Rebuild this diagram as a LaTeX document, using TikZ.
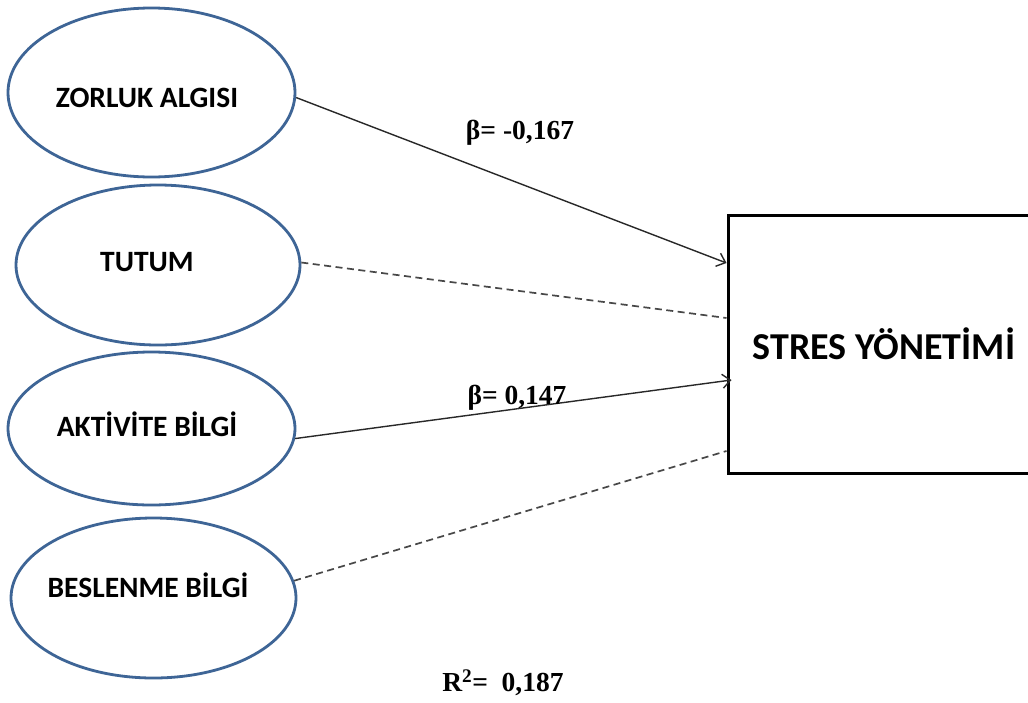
\documentclass[tikz,border=0pt]{standalone}
\usepackage{fontspec}
\setmainfont{Liberation Serif}
\newfontfamily\calib{Carlito}
\usetikzlibrary{arrows.meta,shapes.geometric}
\definecolor{ovalblue}{RGB}{62,101,150}
\definecolor{linkgray}{RGB}{40,40,40}
\tikzset{
  oval/.style={draw=ovalblue, line width=2.8pt, ellipse, inner sep=0pt},
  ovallabel/.style={font=\calib\bfseries\fontsize{29.5}{32}\selectfont, inner sep=0pt},
  target/.style={draw=black, line width=3pt, rectangle, inner sep=0pt,
    minimum width=312pt, minimum height=258pt,
    font=\calib\bfseries\fontsize{38}{42}\selectfont},
  coef/.style={font=\bfseries\fontsize{27.5}{30}\selectfont, inner sep=0pt},
  solidlink/.style={draw=linkgray, line width=1.4pt,
    -{Straight Barb[length=8pt,width=14pt,line width=1.4pt]}},
  dashlink/.style={draw=linkgray!85, line width=1.7pt, dash pattern=on 7pt off 4.5pt}
}
\begin{document}
\begin{tikzpicture}[x=1pt,y=-1pt]
  \useasboundingbox (0,0) rectangle (1028,702);
  \fill[white] (0,0) rectangle (1028,702);
  \clip (0,0) rectangle (1028,702);

  % predictor constructs
  \node[oval, minimum width=287pt, minimum height=169pt] (zor) at (151.5,92.5) {};
  \node[oval, minimum width=284pt, minimum height=160pt] (tut) at (158,265) {};
  \node[oval, minimum width=287pt, minimum height=153pt] (akt) at (151.5,428.5) {};
  \node[oval, minimum width=285pt, minimum height=160pt] (bes) at (153.5,598) {};

  \node[ovallabel] (zorlbl) at (147,98) {ZORLUK ALGISI};
  \node[ovallabel] (tutlbl) at (147,262) {TUTUM};
  \node[ovallabel] (aktlbl) at (147,424) {AKTİVİTE BİLGİ};
  \node[ovallabel] (beslbl) at (148,585) {BESLENME BİLGİ};

  % outcome construct (right side runs off the page)
  \node[target] (stres) at (884,344) {STRES YÖNETİMİ};

  % entry points on the left side of the outcome box
  \coordinate (inZ) at ([yshift=81pt]stres.west);
  \coordinate (inT) at ([yshift=26pt]stres.west);
  \coordinate (inA) at ([xshift=5pt,yshift=-36pt]stres.west);
  \coordinate (inB) at ([yshift=-107pt]stres.west);

  % paths
  \draw[solidlink] (zor.-2) -- (inZ);
  \draw[dashlink] (tut.1) -- (inT);
  \draw[solidlink] (akt.-4) -- (inA);
  \draw[dashlink] (bes.7) -- (inB);

  % coefficients
  \node[coef] (b1) at (520,133) {β= -0,167};
  \node[coef] (b2) at (517,398) {β= 0,147};
  \node[coef] (r2) at (503,683) {R\textsuperscript{2}=\ \ 0,187};
\end{tikzpicture}
\end{document}
